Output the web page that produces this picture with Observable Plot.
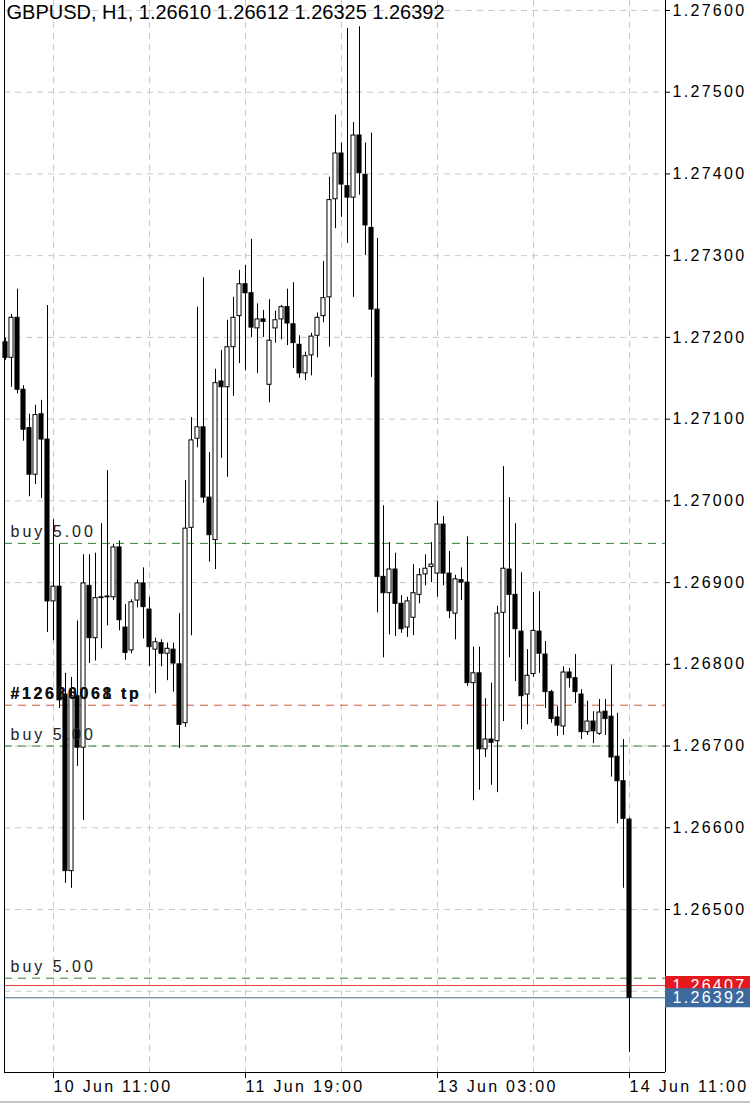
<!DOCTYPE html>
<html>
<head>
<meta charset="utf-8">
<script src="https://cdn.jsdelivr.net/npm/d3@7"></script>
<script src="https://cdn.jsdelivr.net/npm/@observablehq/plot@0.6"></script>
<style>
html, body { margin: 0; padding: 0; background: #fff; }
#wrap { position: relative; width: 750px; height: 1104px; overflow: hidden; }
#sep { position: absolute; left: 0; top: 1101px; width: 750px; height: 2px; background: #c4c4c4; }
</style>
</head>
<body>
<div id="wrap"><div id="chart"></div><div id="sep"></div></div>
<script>
// GBPUSD H1 candles, from 10 Jun 03:00, one per hour
const open = [
1.27194,1.27175,1.27224,1.27136,1.27089,1.27032,1.27106,1.27075,1.26877,1.26895,
1.26763,1.26547,1.26761,1.26698,1.26896,1.26832,1.26881,1.26882,1.26882,1.26943,
1.26845,1.26817,1.26878,1.26899,1.26867,1.26818,1.26826,1.26813,1.26818,1.26800,
1.26728,1.26967,1.27076,1.27090,1.27004,1.26952,1.27146,1.27139,1.27188,1.27226,
1.27265,1.27254,1.27211,1.27222,1.27142,1.27211,1.27222,1.27237,1.27216,1.27191,
1.27156,1.27178,1.27202,1.27226,1.27249,1.27369,1.27425,1.27385,1.27371,1.27447,
1.27399,1.27334,1.27234,1.26907,1.26887,1.26916,1.26874,1.26845,1.26857,1.26885,
1.26910,1.26919,1.26911,1.26971,1.26911,1.26862,1.26903,1.26900,1.26777,1.26789,
1.26696,1.26708,1.26706,1.26863,1.26916,1.26885,1.26840,1.26763,1.26788,1.26840,
1.26812,1.26766,1.26735,1.26724,1.26790,1.26783,1.26763,1.26717,1.26730,1.26715,
1.26742,1.26736,1.26687,1.26657,1.26610];
const high = [
1.27199,1.27228,1.27259,1.27141,1.27106,1.27117,1.27123,1.27239,1.26977,1.26947,
1.26789,1.26784,1.26853,1.26934,1.26934,1.26936,1.26972,1.27037,1.26947,1.26951,
1.26873,1.26879,1.26903,1.26918,1.26882,1.26832,1.26830,1.26826,1.26826,1.26862,
1.27025,1.27102,1.27237,1.27273,1.27059,1.27161,1.27184,1.27221,1.27249,1.27282,
1.27288,1.27320,1.27241,1.27233,1.27246,1.27232,1.27239,1.27259,1.27267,1.27202,
1.27182,1.27205,1.27230,1.27293,1.27396,1.27472,1.27438,1.27578,1.27463,1.27580,
1.27438,1.27450,1.27321,1.26994,1.26949,1.26936,1.26884,1.26882,1.26922,1.26917,
1.26934,1.26949,1.26999,1.26981,1.26938,1.26909,1.26918,1.26956,1.26821,1.26821,
1.26758,1.26777,1.26871,1.27042,1.27004,1.26972,1.26912,1.26818,1.26888,1.26889,
1.26828,1.26768,1.26748,1.26797,1.26795,1.26812,1.26769,1.26755,1.26742,1.26757,
1.26757,1.26799,1.26740,1.26708,1.26612];
const low = [
1.27172,1.27139,1.27131,1.27073,1.27005,1.27020,1.27003,1.26839,1.26829,1.26746,
1.26532,1.26526,1.26675,1.26609,1.26801,1.26804,1.26819,1.26847,1.26878,1.26841,
1.26805,1.26813,1.26869,1.26831,1.26797,1.26764,1.26797,1.26780,1.26766,1.26697,
1.26723,1.26835,1.27065,1.26997,1.26925,1.26916,1.27052,1.27029,1.27128,1.27168,
1.27159,1.27200,1.27156,1.27200,1.27120,1.27193,1.27197,1.27190,1.27162,1.27150,
1.27147,1.27153,1.27175,1.27218,1.27188,1.27333,1.27347,1.27315,1.27249,1.27374,
1.27300,1.27151,1.26863,1.26808,1.26836,1.26834,1.26838,1.26833,1.26835,1.26874,
1.26896,1.26900,1.26882,1.26896,1.26856,1.26830,1.26878,1.26773,1.26633,1.26646,
1.26686,1.26652,1.26643,1.26730,1.26808,1.26779,1.26720,1.26726,1.26784,1.26789,
1.26746,1.26728,1.26712,1.26713,1.26771,1.26752,1.26708,1.26713,1.26703,1.26713,
1.26713,1.26662,1.26605,1.26526,1.26325];
const close = [
1.27175,1.27224,1.27136,1.27087,1.27032,1.27105,1.27075,1.26877,1.26895,1.26756,
1.26547,1.26761,1.26698,1.26899,1.26832,1.26881,1.26882,1.26883,1.26943,1.26854,
1.26814,1.26876,1.26899,1.26870,1.26821,1.26827,1.26813,1.26819,1.26801,1.26726,
1.26966,1.27074,1.27090,1.27004,1.26958,1.27144,1.27139,1.27188,1.27224,1.27265,
1.27254,1.27212,1.27222,1.27219,1.27196,1.27221,1.27237,1.27217,1.27193,1.27156,
1.27177,1.27201,1.27224,1.27248,1.27368,1.27425,1.27387,1.27371,1.27447,1.27401,
1.27337,1.27234,1.26907,1.26887,1.26916,1.26874,1.26843,1.26877,1.26887,1.26909,
1.26917,1.26922,1.26971,1.26911,1.26865,1.26904,1.26900,1.26777,1.26789,1.26696,
1.26708,1.26704,1.26862,1.26917,1.26885,1.26843,1.26761,1.26786,1.26841,1.26813,
1.26766,1.26733,1.26725,1.26790,1.26783,1.26766,1.26717,1.26730,1.26718,1.26741,
1.26733,1.26686,1.26657,1.26611,1.26392];

const priceTicks = [1.264,1.265,1.266,1.267,1.268,1.269,1.270,1.271,1.272,1.273,1.274,1.275,1.276];
const timeTickLabels = ["10 Jun 11:00", "11 Jun 19:00", "13 Jun 03:00", "14 Jun 11:00"];
const buyLevels = [1.26948, 1.26700, 1.26416];
const buyText = "buy 5.00";
const tpLevel = 1.26750;
const tpTexts = ["#12680068 tp", "#12686061 tp"];
const askPrice = 1.26407;
const bidPrice = 1.26392;
const title = "GBPUSD, H1, 1.26610 1.26612 1.26325 1.26392";

const t0 = Date.UTC(2024, 5, 10, 3);
const months = ["Jan","Feb","Mar","Apr","May","Jun","Jul","Aug","Sep","Oct","Nov","Dec"];
const fmt = i => {
  const d = new Date(t0 + i * 3600e3);
  return `${d.getUTCDate()} ${months[d.getUTCMonth()]} ${String(d.getUTCHours()).padStart(2, "0")}:00`;
};
const bars = open.map((o, i) => ({i, open: o, high: high[i], low: low[i], close: close[i]}));
const tickIdx = bars.map(d => d.i).filter(i => timeTickLabels.includes(fmt(i)));
const gridIdx = bars.map(d => d.i).filter(i => (i - tickIdx[0]) % 16 === 0 && i >= tickIdx[0]);
// the axis label hidden under the price boxes is left blank
const priceLabel = p => Math.abs(p - bidPrice) > 0.0003 ? p.toFixed(5) : "";

const xLo = -1/6, xHi = 110, xBox = 124.2;
const yLo = 1.263006, yHi = 1.276122;
const FONT = "'Liberation Sans', Arial, Helvetica, sans-serif";

const svg = Plot.plot({
  width: 750,
  height: 1104,
  marginLeft: 4,
  marginRight: 85,
  marginTop: 0,
  marginBottom: 32,
  style: {fontFamily: FONT, background: "#fff", color: "#000"},
  x: {domain: [xLo, xHi]},
  y: {domain: [yLo, yHi]},
  marks: [
    Plot.ruleY(priceTicks, {stroke: "#c8c8c8", strokeDasharray: "6,5"}),
    Plot.ruleX(gridIdx, {stroke: "#c8c8c8", strokeDasharray: "6,5"}),
    Plot.ruleY(buyLevels, {stroke: "#2e8030", strokeDasharray: "8,6"}),
    Plot.ruleY([tpLevel], {stroke: "#c85a36", strokeDasharray: "8,6"}),
    Plot.ruleY([askPrice], {stroke: "#e2403c"}),
    Plot.ruleY([bidPrice], {stroke: "#4d6e8e"}),
    Plot.ruleX(bars, {x: "i", y1: "low", y2: "high", stroke: "#000", strokeWidth: 1}),
    Plot.rect(bars, {
      x1: d => d.i - 0.34, x2: d => d.i + 0.34,
      y1: "open", y2: "close",
      fill: d => d.close > d.open ? "#fff" : "#000",
      stroke: "#000", strokeWidth: 1
    }),
    Plot.text(buyLevels, {y: d => d, frameAnchor: "left", dx: 6, dy: -11, text: () => buyText,
      textAnchor: "start", fontSize: 16, fill: "#222"}),
    Plot.text(tpTexts, {y: () => tpLevel, frameAnchor: "left", dx: 6, dy: -11, text: d => d,
      textAnchor: "start", fontSize: 16, fontWeight: "bold", fill: "#111"}),
    Plot.text([title], {frameAnchor: "top-left", dx: 2, dy: 4, lineAnchor: "top",
      textAnchor: "start", fontSize: 20, fill: "#000"}),
    Plot.ruleX([xLo, xHi], {stroke: "#000"}),
    Plot.ruleY([yLo], {stroke: "#000"}),
    Plot.axisY(priceTicks, {anchor: "right", tickFormat: priceLabel, tickSize: 4,
      tickPadding: 3, fontSize: 16, label: null}),
    Plot.axisX(tickIdx, {tickFormat: fmt, tickSize: 6, tickPadding: 2, textAnchor: "start",
      fontSize: 16, label: null}),
    Plot.ruleY([askPrice], {x1: xHi, x2: xBox, stroke: "#e5191d", strokeWidth: 19}),
    Plot.text([askPrice], {y: d => d, frameAnchor: "right", dx: 7, text: d => d.toFixed(5),
      textAnchor: "start", fontSize: 16, fill: "#fff"}),
    Plot.ruleY([bidPrice], {x1: xHi, x2: xBox, stroke: "#3c6a9f", strokeWidth: 19}),
    Plot.text([bidPrice], {y: d => d, frameAnchor: "right", dx: 7, text: d => d.toFixed(5),
      textAnchor: "start", fontSize: 16, fill: "#fff"})
  ]
});

d3.select(svg).selectAll("text").each(function() {
  const t = this.textContent;
  if (t.startsWith("GBPUSD")) return;
  let ls = 2.3;
  if (t.startsWith("buy")) ls = 3;
  else if (t.startsWith("#")) ls = 2.6;
  this.setAttribute("letter-spacing", ls);
});

document.getElementById("chart").appendChild(svg);
</script>
</body>
</html>
